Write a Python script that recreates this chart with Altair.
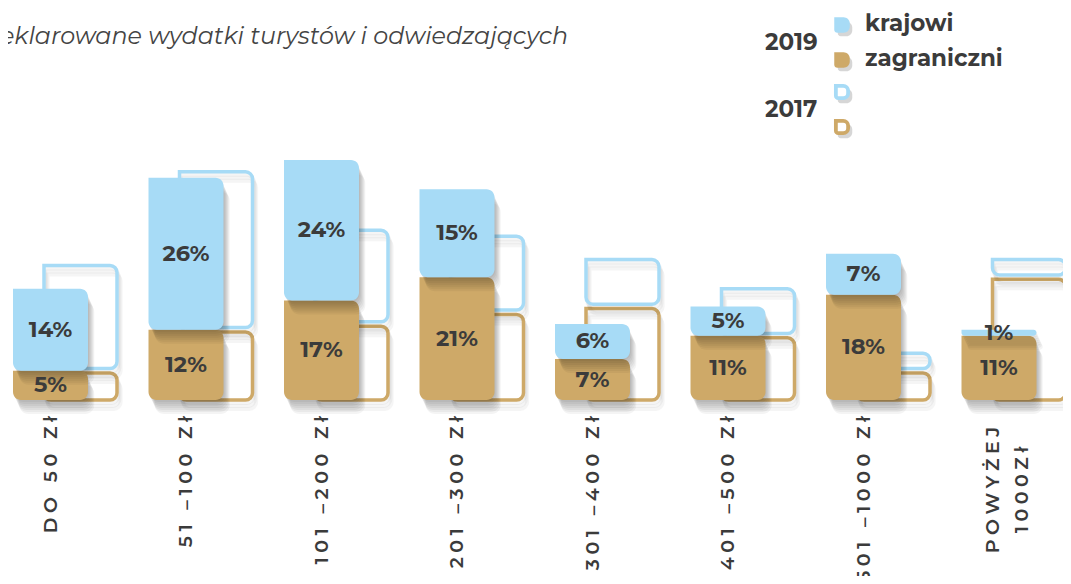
import altair as alt
import pandas as pd

# ---- data ----
categories = ["DO 50 Zł", "51 – 100 Zł", "101 – 200 Zł", "201 – 300 Zł",
              "301 – 400 Zł", "401 – 500 Zł", "501 – 1000 Zł", "POWYŻEJ 1000Zł"]
krajowi_2019 = [14, 26, 24, 15, 6, 5, 7, 1]
zagraniczni_2019 = [5, 12, 17, 21, 7, 11, 18, 11]
krajowi_2017 = [18, 27, 16, 13, 8, 8, 3, 3]
zagraniczni_2017 = [5, 12, 13, 15, 16, 11, 5, 21]
title_text = "Deklarowane wydatki turystów i odwiedzających"

BLUE = "#a7dbf6"
TAN = "#cea968"
TXT = "#3b3b3b"
FONT = "Montserrat, Inter, sans-serif"

rows = []
for i, c in enumerate(categories):
    for year, kr, za in ((2019, krajowi_2019, zagraniczni_2019),
                         (2017, krajowi_2017, zagraniczni_2017)):
        z, k = za[i], kr[i]
        rows.append(dict(cat=c, year=year, grupa="zagraniczni", lo=0, hi=z, mid=z / 2, label=f"{z}%"))
        rows.append(dict(cat=c, year=year, grupa="krajowi", lo=z, hi=z + k, mid=z + k / 2, label=f"{k}%"))
df = pd.DataFrame(rows)

LETTER_GAP = "\u2009\u200a"
WORD_GAP = "\u2009\u2002\u2009"


def spaced(s):
    words = s.split(" ")
    out = LETTER_GAP.join(words[0])
    for prev, w in zip(words[:-1], words[1:]):
        out += (LETTER_GAP if prev == "–" else WORD_GAP) + LETTER_GAP.join(w)
    return out


lab = pd.DataFrame({"cat": categories[:-1], "txt": [spaced(c) for c in categories[:-1]]})
lab_last = pd.DataFrame({"cat": [categories[-1]],
                         "txt": [spaced("POWYŻEJ") + "\n" + spaced("1000Zł")]})

X = alt.X("cat:N", sort=categories, axis=None,
          scale=alt.Scale(type="point", range=[42.5, 991], padding=0))
YS = alt.Scale(domain=[0, 67], nice=False, zero=True)
COL = alt.Color("grupa:N", scale=alt.Scale(domain=["krajowi", "zagraniczni"], range=[BLUE, TAN]), legend=None)
CORNERS = dict(cornerRadiusTopLeft=0, cornerRadiusTopRight=7,
               cornerRadiusBottomLeft=7, cornerRadiusBottomRight=7)

layers = []
# 2017 outlines (with a faint cast shadow)
for g, off in (("zagraniczni", (2.2, 0)), ("krajowi", (0, -2.2))):
    src17 = alt.Chart(df).transform_filter(f"datum.year == 2017 && datum.grupa == '{g}'")
    for d in (3, 6, 9):
        layers.append(
            src17.mark_bar(filled=False, strokeWidth=4, width=73, xOffset=30 + d * 0.4,
                           color="#000000", opacity=0.035,
                           yOffset=off[0] + d, y2Offset=off[1] + d, **CORNERS)
            .encode(x=X, y=alt.Y("hi:Q", scale=YS, axis=None), y2="lo:Q")
        )
    layers.append(
        src17.mark_bar(filled=False, strokeWidth=3.5, width=73, xOffset=30,
                       yOffset=off[0], y2Offset=off[1], **CORNERS)
        .encode(x=X, y=alt.Y("hi:Q", scale=YS, axis=None), y2="lo:Q", color=COL)
    )

# 2019 bars with soft shadows
for g in ("zagraniczni", "krajowi"):
    src = alt.Chart(df).transform_filter(f"datum.year == 2019 && datum.grupa == '{g}'")
    for d in (2, 4, 6, 8, 10, 12, 14):
        layers.append(
            src.mark_bar(color="#000000", opacity=0.045, width=75, xOffset=d * 0.45,
                         yOffset=d, y2Offset=d,
                         cornerRadius=9)
            .encode(x=X, y=alt.Y("hi:Q", scale=YS, axis=None), y2="lo:Q")
        )
    layers.append(
        src.mark_bar(width=75, cornerRadiusTopLeft=0, cornerRadiusTopRight=8,
                     cornerRadiusBottomLeft=8, cornerRadiusBottomRight=8)
        .encode(x=X, y=alt.Y("hi:Q", scale=YS, axis=None), y2="lo:Q", color=COL)
    )

# value labels
layers.append(
    alt.Chart(df).transform_filter("datum.year == 2019")
    .mark_text(font=FONT, fontSize=22.5, fontWeight="bold", color=TXT)
    .encode(x=X, y=alt.Y("mid:Q", scale=YS, axis=None), text="label:N")
)

# category labels
layers.append(
    alt.Chart(lab).mark_text(font=FONT, fontSize=19, fontWeight=600, color=TXT,
                             angle=270, align="right", baseline="middle")
    .encode(x=X, y=alt.value(408), text="txt:N")
)
layers.append(
    alt.Chart(lab_last).mark_text(font=FONT, fontSize=19, fontWeight=600, color=TXT,
                                  angle=270, align="center", baseline="middle",
                                  lineBreak="\n", lineHeight=29, dy=-6)
    .encode(x=X, y=alt.value(482), text="txt:N")
)

# title
layers.append(
    alt.Chart(pd.DataFrame({"t": [title_text]}))
    .mark_text(font=FONT, fontSize=23.8, fontStyle="italic", color="#444444",
               align="right", baseline="middle")
    .encode(x=alt.value(560), y=alt.value(29), text="t:N")
)

# legend
DROP = ("M-1,-1 L0.2,-1 A0.8,0.8 0 0 1 1,-0.2 L1,0.2 A0.8,0.8 0 0 1 0.2,1 "
        "L-0.6,1 A0.4,0.4 0 0 1 -1,0.6 Z")
one = pd.DataFrame({"a": [0]})
for (px, py, col, filled) in ((834, 17, BLUE, True), (834, 52, TAN, True),
                              (834, 84, BLUE, False), (834, 119, TAN, False)):
    layers.append(alt.Chart(one).mark_point(shape=DROP, size=210, filled=True, color="#000000",
                                            opacity=0.16)
                  .encode(x=alt.value(px + 3), y=alt.value(py + 4)))
    if filled:
        layers.append(alt.Chart(one).mark_point(shape=DROP, size=240, filled=True, color=col, opacity=1)
                      .encode(x=alt.value(px), y=alt.value(py)))
    else:
        layers.append(alt.Chart(one).mark_point(shape=DROP, size=150, filled=True, color="#ffffff",
                                                stroke=col, strokeWidth=3.8, opacity=1)
                      .encode(x=alt.value(px), y=alt.value(py)))

for (t, px, py) in (("krajowi", 857, 16), ("zagraniczni", 857, 51), ("2019", 757, 35), ("2017", 757, 102)):
    layers.append(alt.Chart(pd.DataFrame({"t": [t]}))
                  .mark_text(font=FONT, fontSize=23, fontWeight="bold", color=TXT,
                             align="left", baseline="middle")
                  .encode(x=alt.value(px), y=alt.value(py), text="t:N"))

chart = alt.layer(*layers).properties(
    width=1055, height=392, autosize="none",
    padding={"left": 0, "top": 0, "right": 0, "bottom": 176},
    background="white",
).configure_view(stroke=None)

chart.save("out.html", embed_options={"renderer": "svg", "actions": False})
